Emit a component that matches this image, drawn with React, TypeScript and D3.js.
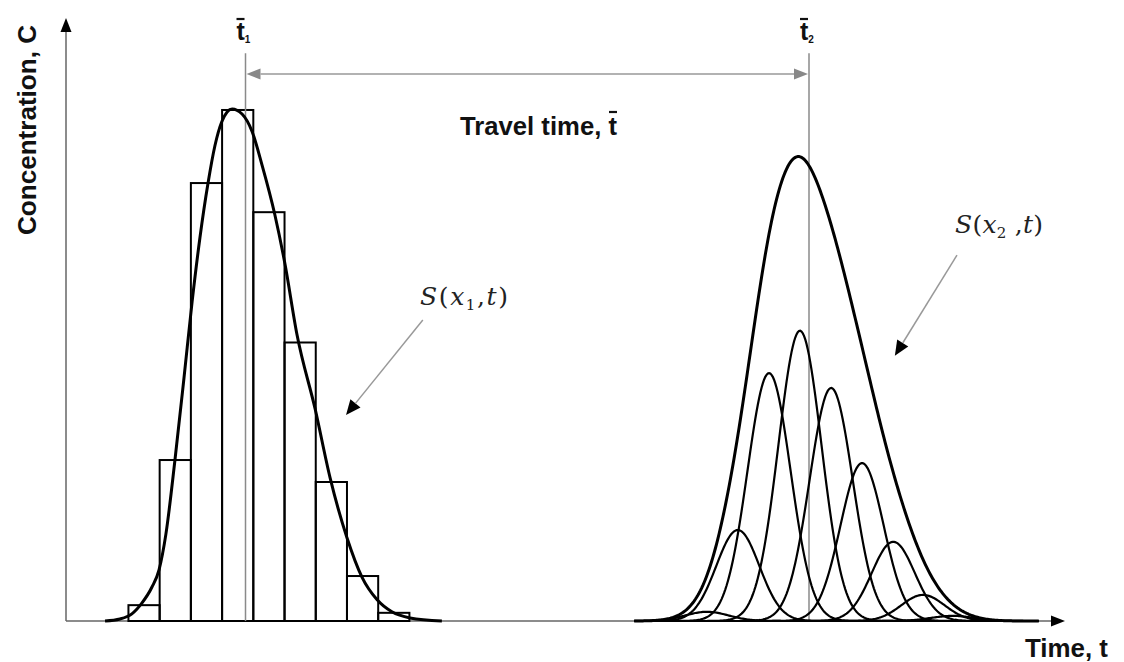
import React, { useEffect, useRef } from 'react';
import * as d3 from 'd3';

// histogram of concentration at x1, one bin per time unit
const binStarts = [2, 3, 4, 5, 6, 7, 8, 9, 10];
const binHeights = [0.031, 0.315, 0.857, 1.0, 0.8, 0.545, 0.272, 0.088, 0.016];

// S(x1,t), points
const upstreamT = [1.25, 1.73, 2.11, 2.43, 2.75, 2.98, 3.2, 3.49, 3.78, 4.04, 4.29, 4.55, 4.77, 4.99, 5.32,
    5.64, 5.96, 6.28, 6.69, 7.01, 7.4, 7.98, 8.46, 9.0, 9.48, 9.96, 10.44, 11.02, 12.04];
const upstreamC = [0, 0.004, 0.014, 0.035, 0.066, 0.1, 0.17, 0.315, 0.476, 0.625, 0.75, 0.857, 0.93, 0.977, 1.002,
    0.992, 0.958, 0.892, 0.795, 0.7, 0.56, 0.415, 0.28, 0.163, 0.086, 0.042, 0.018, 0.006, 0];

// at x2 every bin has spread into its own bell curve
const pulseCenters = [20.53, 21.52, 22.52, 23.51, 24.51, 25.5, 26.5, 27.45, 28.4];
const pulsePeaks = [0.018, 0.178, 0.485, 0.568, 0.456, 0.309, 0.155, 0.051, 0.01];
const pulseSpread = 0.69;

// mean travel times
const meanTimes = [5.75, 23.8];
const meanLabels = ['1', '2'];

function arrowHead(g, x1, y1, x2, y2, len, half, fill) {
    const a = Math.atan2(y2 - y1, x2 - x1);
    const bx = x2 - len * Math.cos(a);
    const by = y2 - len * Math.sin(a);
    const px = -Math.sin(a) * half;
    const py = Math.cos(a) * half;
    g.append('polygon')
        .attr('points', `${x2},${y2} ${bx + px},${by + py} ${bx - px},${by - py}`)
        .style('fill', fill);
    return [bx, by];
}

export default function App() {
    const ref = useRef<SVGSVGElement>(null);

    useEffect(() => {
        const svg = d3.select(ref.current);
        svg.selectAll('*').remove();

        const x = d3.scaleLinear().domain([0, 32]).range([66, 1065]);
        const y = d3.scaleLinear().domain([0, 1.18]).range([621, 18]);
        const g = svg.append('g');

        // axes
        const [ax, ay] = arrowHead(g, x(0), y(0), x(0), y(1.18), 14, 5.5, '#000');
        g.append('line')
            .attr('x1', x(0)).attr('y1', y(0))
            .attr('x2', ax).attr('y2', ay)
            .style('stroke', '#666').style('stroke-width', 1.5);
        const [bx, by] = arrowHead(g, x(0), y(0), x(32), y(0), 14, 5.5, '#000');
        g.append('line')
            .attr('x1', x(0)).attr('y1', y(0))
            .attr('x2', bx).attr('y2', by)
            .style('stroke', '#666').style('stroke-width', 1.5);

        // histogram
        g.selectAll('rect.bin')
            .data(binStarts)
            .enter()
            .append('rect')
            .attr('class', 'bin')
            .attr('x', d => x(d))
            .attr('width', x(1) - x(0))
            .attr('y', (d, i) => y(binHeights[i]))
            .attr('height', (d, i) => y(0) - y(binHeights[i]))
            .style('fill', 'none')
            .style('stroke', '#000')
            .style('stroke-width', 2);

        // mean time markers
        const lineTop = 1.111;
        meanTimes.forEach((t, i) => {
            g.append('line')
                .attr('x1', x(t)).attr('x2', x(t))
                .attr('y1', y(0)).attr('y2', y(lineTop))
                .style('stroke', '#8a8a8a').style('stroke-width', 1.5);
            const lbl = g.append('text')
                .attr('x', x(t) - 9)
                .attr('y', 40)
                .style('font-family', 'Liberation Sans, Arial, sans-serif')
                .style('font-weight', 'bold')
                .style('font-size', '25px')
                .style('fill', '#111');
            lbl.append('tspan').text('t');
            lbl.append('tspan').text(meanLabels[i]).attr('dy', 3).style('font-size', '10px');
            g.append('line')
                .attr('x1', x(t) - 9).attr('x2', x(t) - 1)
                .attr('y1', 19).attr('y2', 19)
                .style('stroke', '#111').style('stroke-width', 2.2);
        });

        // S(x1,t)
        const smooth = d3.line()
            .x(d => x(d[0]))
            .y(d => y(d[1]))
            .curve(d3.curveMonotoneX);
        g.append('path')
            .attr('d', smooth(upstreamT.map((t, i) => [t, upstreamC[i]])))
            .style('fill', 'none')
            .style('stroke', '#000')
            .style('stroke-width', 3);

        // S(x2,t): the spread pulses and their sum
        const line = d3.line()
            .x(d => x(d[0]))
            .y(d => y(d[1]));
        const ts = d3.range(18.2, 31.2, 0.04);
        const bell = (t, c, p) => p * Math.exp(-((t - c) ** 2) / (2 * pulseSpread * pulseSpread));
        pulseCenters.forEach((c, i) => {
            g.append('path')
                .attr('d', line(ts.map(t => [t, bell(t, c, pulsePeaks[i])])))
                .style('fill', 'none')
                .style('stroke', '#000')
                .style('stroke-width', 2.2);
        });
        const total = ts.map(t => [t, d3.sum(pulseCenters, (c, i) => bell(t, c, pulsePeaks[i]))]);
        g.append('path')
            .attr('d', line(total))
            .style('fill', 'none')
            .style('stroke', '#000')
            .style('stroke-width', 3);

        // travel time arrow
        const ty = 74;
        const x1 = x(meanTimes[0]) + 1;
        const x2 = x(meanTimes[1]) - 1;
        const [lx] = arrowHead(g, x2, ty, x1, ty, 14, 5.5, '#888');
        const [rx] = arrowHead(g, x1, ty, x2, ty, 14, 5.5, '#888');
        g.append('line')
            .attr('x1', lx).attr('x2', rx)
            .attr('y1', ty).attr('y2', ty)
            .style('stroke', '#999').style('stroke-width', 1.5);

        g.append('text')
            .attr('x', 460)
            .attr('y', 135)
            .attr('textLength', 157)
            .attr('lengthAdjust', 'spacingAndGlyphs')
            .style('font-family', 'Liberation Sans, Arial, sans-serif')
            .style('font-weight', 'bold')
            .style('font-size', '26px')
            .style('fill', '#111')
            .text('Travel time, t');
        g.append('line')
            .attr('x1', 609).attr('x2', 617)
            .attr('y1', 112).attr('y2', 112)
            .style('stroke', '#111').style('stroke-width', 2.2);

        // pointers to the curves
        const notes = [
            { sub: '1', t: 11.34, c: 0.618, from: [11.43, 0.589], to: [8.97, 0.403], space: '' },
            { sub: '2', t: 28.48, c: 0.759, from: [28.54, 0.716], to: [26.55, 0.519], space: ' ' }
        ];
        notes.forEach(n => {
            const [hx, hy] = arrowHead(g, x(n.from[0]), y(n.from[1]), x(n.to[0]), y(n.to[1]), 15, 6.5, '#000');
            g.append('line')
                .attr('x1', x(n.from[0])).attr('y1', y(n.from[1]))
                .attr('x2', hx).attr('y2', hy)
                .style('stroke', '#999').style('stroke-width', 1.5);
            const txt = g.append('text')
                .attr('x', x(n.t))
                .attr('y', y(n.c))
                .attr('textLength', 88)
                .attr('lengthAdjust', 'spacing')
                .style('font-family', 'DejaVu Serif, serif')
                .style('font-size', '25px')
                .style('fill', '#222');
            txt.append('tspan').text('S').style('font-style', 'italic');
            txt.append('tspan').text('(');
            txt.append('tspan').text('x').style('font-style', 'italic');
            txt.append('tspan').text(n.sub).attr('dy', 5).style('font-size', '15px');
            txt.append('tspan').text(n.space + ',').attr('dy', -5);
            txt.append('tspan').text('t').style('font-style', 'italic');
            txt.append('tspan').text(')');
        });

        // axis titles
        g.append('text')
            .attr('transform', 'translate(36, 130) rotate(-90)')
            .attr('text-anchor', 'middle')
            .attr('textLength', 210)
            .attr('lengthAdjust', 'spacingAndGlyphs')
            .style('font-family', 'Liberation Sans, Arial, sans-serif')
            .style('font-weight', 'bold')
            .style('font-size', '26px')
            .style('fill', '#111')
            .text('Concentration, C');
        g.append('text')
            .attr('x', 1025)
            .attr('y', 657)
            .attr('textLength', 83)
            .attr('lengthAdjust', 'spacingAndGlyphs')
            .style('font-family', 'Liberation Sans, Arial, sans-serif')
            .style('font-weight', 'bold')
            .style('font-size', '26px')
            .style('fill', '#111')
            .text('Time, t');
    }, []);

    return (
        <svg ref={ref} width={1124} height={662}
            style={{ position: 'absolute', left: 0, top: 0, background: '#fff' }} />
    );
}
